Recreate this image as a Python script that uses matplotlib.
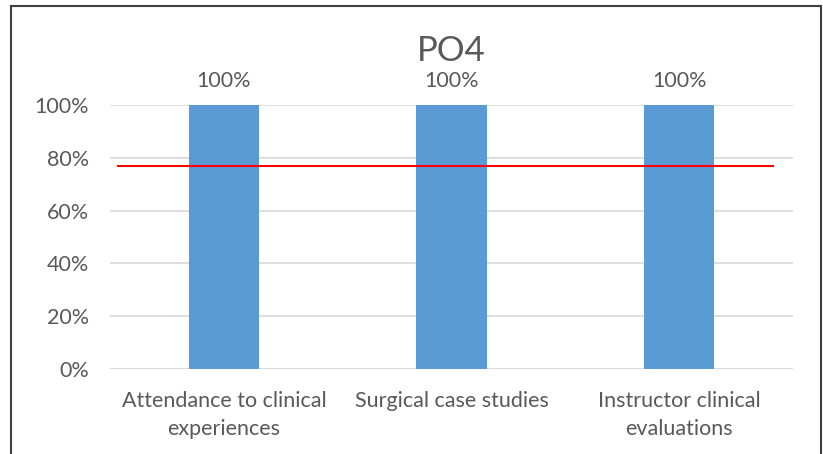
import matplotlib.pyplot as plt
from matplotlib.patches import Rectangle

# datos del grafico
categories = ['Attendance to clinical\nexperiences', 'Surgical case studies',
              'Instructor clinical\nevaluations']
values = [1.0, 1.0, 1.0]
value_labels = ['100%', '100%', '100%']
target = 0.77
target_x = [-0.465, 2.41]
yticks = [0, 0.2, 0.4, 0.6, 0.8, 1.0]
ytick_labels = ['0%', '20%', '40%', '60%', '80%', '100%']

plt.rcParams['font.family'] = ['Lato', 'DejaVu Sans']
gray = '#595959'

fig = plt.figure(figsize=(8.23, 4.54), dpi=100)
ax = fig.add_axes([110/823, 1 - 369/454, 683/823, 264/454])

x = range(len(categories))
ax.bar(x, values, width=0.31, color='#5b9bd5', zorder=2)
ax.plot(target_x, [target, target], color='red', lw=1.5, zorder=3)

# etiquetas de valores sobre las barras
for i, v in enumerate(values):
    ax.annotate(value_labels[i], xy=(i, v), xytext=(0, 17), textcoords='offset points',
                ha='center', va='center', fontsize=15.5, color=gray)

ax.set_xlim(-0.5, 2.5)
ax.set_ylim(0, 1.0)
ax.set_yticks(yticks)
ax.set_yticklabels(ytick_labels, fontsize=15.5, color=gray)
ax.set_xticks(list(x))
ax.set_xticklabels(categories, fontsize=15.5, color=gray, linespacing=1.5)
ax.tick_params(length=0, pad=15)
ax.tick_params(axis='x', pad=16)
ax.grid(axis='y', color='#d9d9d9', lw=1.2, zorder=0)
for s in ax.spines.values():
    s.set_visible(False)
ax.axhline(0, color='#d9d9d9', lw=1.2, zorder=1)

fig.text((110 + 793) / 2 / 823, 1 - 51/454, 'PO4', ha='center', va='center',
         fontsize=25, color=gray)

# marco de la figura
fig.patches.append(Rectangle((11/823, -0.05), 810/823, 1 - 6/454 + 0.05, transform=fig.transFigure,
                             fill=False, edgecolor='#404040', lw=1.5))

fig.savefig('out.png', dpi=100)
